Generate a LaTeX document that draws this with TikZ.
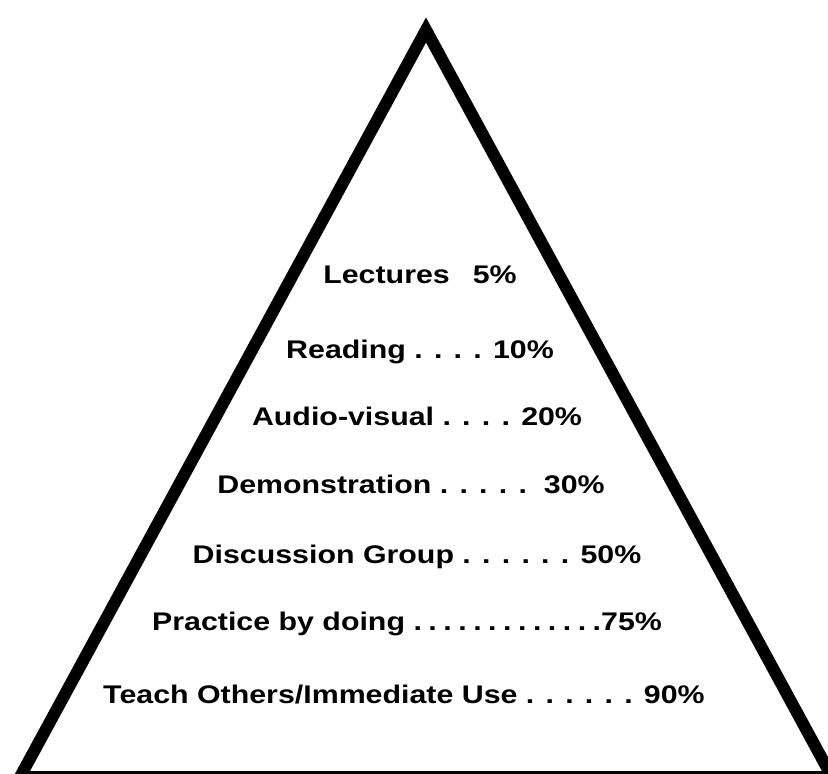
\documentclass[tikz,border=0pt]{standalone}
\usepackage{fontspec}
\newfontfamily\lblfont{Liberation Sans}[FakeStretch=1.19]
\newcommand\mydotgap{\hspace{6.5pt}.}
\tikzset{
  lbl/.style={anchor=base, inner sep=0pt, font=\lblfont\bfseries\fontsize{25.5pt}{30pt}\selectfont, text=black},
  pyr/.style={draw=black, line width=12pt, line join=miter}
}
\begin{document}
\begin{tikzpicture}[x=1pt,y=-1pt]
\useasboundingbox (0,0) rectangle (828,774);
\begin{scope}
\clip (0,0) rectangle (828,774);
\draw[pyr] (426,30) -- (20,777) -- (832,777) -- cycle;
\end{scope}
\node[lbl] (l1) at (420,283) {Lectures\hspace{23pt}5\%};
\node[lbl] (l2) at (420,358) {Reading . . . . 10\%};
\node[lbl] (l3) at (417,425) {Audio-visual . . . . 20\%};
\node[lbl] (l4) at (411,493) {Demonstration . . . . .\ \ 30\%};
\node[lbl] (l5) at (417,563) {Discussion Group . . . . . . 50\%};
\node[lbl] (l6) at (407,630) {Practice by doing .\mydotgap\mydotgap\mydotgap\mydotgap\mydotgap\mydotgap\mydotgap\mydotgap\mydotgap\mydotgap\mydotgap\mydotgap 75\%};
\node[lbl] (l7) at (404,703) {Teach Others/Immediate Use . . . . . . 90\%};
\end{tikzpicture}
\end{document}
